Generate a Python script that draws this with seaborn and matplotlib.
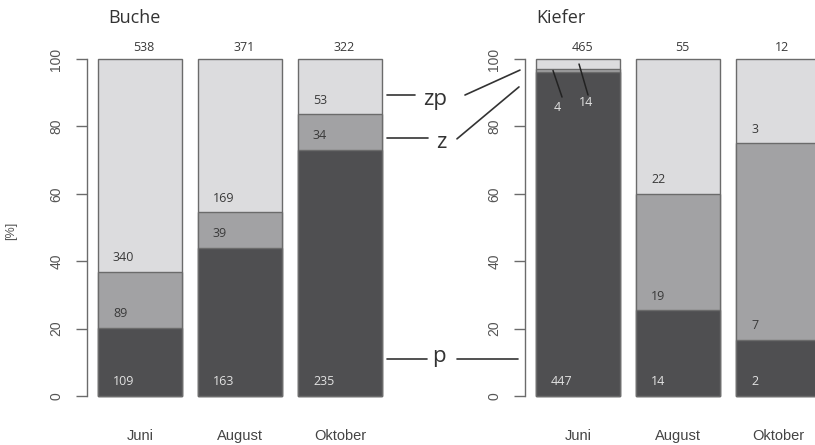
import matplotlib
matplotlib.use("Agg")
import matplotlib.pyplot as plt
import seaborn as sns
import pandas as pd

# ---------------- data ----------------
months = ["Juni", "August", "Oktober"]
panels = ["Buche", "Kiefer"]
buche_p = [109, 163, 235]
buche_z = [89, 39, 34]
buche_zp = [340, 169, 53]
kiefer_p = [447, 14, 2]
kiefer_z = [4, 19, 7]
kiefer_zp = [14, 22, 3]
yticks = [0, 20, 40, 60, 80, 100]

# ---------------- style ----------------
sns.set_theme(style="white")
plt.rcParams["font.family"] = ["Open Sans", "DejaVu Sans"]
AXFONT = ["Liberation Sans", "DejaVu Sans"]

C_DARK = "#4f4f51"
C_MID = "#a2a2a4"
C_LIGHT = "#dcdcde"
EDGE = "#6b6b6b"
TXT = "#3a3a3a"
TXT_LIGHT = "#e2e2e2"

rows = []
for panel, P, Z, ZP in [("Buche", buche_p, buche_z, buche_zp),
                        ("Kiefer", kiefer_p, kiefer_z, kiefer_zp)]:
    for m, a, b, c in zip(months, P, Z, ZP):
        n = a + b + c
        rows.append(dict(panel=panel, month=m, p=a, z=b, zp=c, n=n,
                         pct_p=100 * a / n, pct_pz=100 * (a + b) / n,
                         pct_all=100 * n / n))
df = pd.DataFrame(rows)

fig = plt.figure(figsize=(8.15, 4.45), dpi=100)
ax_pos = {"Buche": [0.1067, 0.0798, 0.3767, 0.818],
          "Kiefer": [0.6442, 0.0798, 0.3767, 0.818]}
title_x = {"Buche": -0.32, "Kiefer": -0.42}
BW = 0.84
axes = {}

for panel in panels:
    ax = fig.add_axes(ax_pos[panel])
    axes[panel] = ax
    d = df[df.panel == panel].reset_index(drop=True)
    for col, color in [("pct_all", C_LIGHT), ("pct_pz", C_MID), ("pct_p", C_DARK)]:
        sns.barplot(data=d, x="month", y=col, order=months, color=color,
                    width=BW, edgecolor=EDGE, linewidth=1.0, saturation=1,
                    errorbar=None, ax=ax)
    ax.set_xlim(-0.53, 2.54)
    ax.set_ylim(-4, 104)
    for s in ["top", "right", "bottom"]:
        ax.spines[s].set_visible(False)
    ax.spines["left"].set_bounds(0, 100)
    ax.spines["left"].set_color(EDGE)
    ax.spines["left"].set_linewidth(1.0)
    ax.set_yticks(yticks)
    ax.set_yticklabels([str(t) for t in yticks], rotation=90, va="center",
                       family=AXFONT)
    ax.set_xticks(range(len(months)))
    ax.set_xticklabels(months, family=AXFONT)
    ax.tick_params(axis="y", left=True, length=8, width=1, color=EDGE, pad=9,
                   labelsize=10, labelcolor="#555555", direction="out")
    ax.tick_params(axis="x", length=0, pad=14, labelsize=10.5, labelcolor="#444444")
    ax.set_xlabel("")
    ax.set_ylabel("")
    ax.text(title_x[panel], 110.7, panel, fontsize=13, color="#333333",
            ha="left", va="baseline", clip_on=False)

    for i, r in d.iterrows():
        left = i - BW / 2
        # total on top
        ax.text(i + 0.04, 103.3, str(r.n), ha="center", va="center",
                fontsize=9, color=TXT)
        segs = [(r.p, 0.0, TXT_LIGHT, "p"),
                (r.z, r.pct_p, TXT, "z"),
                (r.zp, r.pct_pz, TXT, "zp")]
        for val, bottom, tc, name in segs:
            if panel == "Kiefer" and i == 0 and name != "p":
                continue
            ax.text(left + 0.15, bottom + 4.2, str(val), ha="left", va="center",
                    fontsize=9, color=tc)

    if panel == "Kiefer":
        r = d.iloc[0]
        z_mid = (r.pct_p + r.pct_pz) / 2
        zp_mid = (r.pct_pz + 100) / 2
        ax.plot([-0.25, -0.16], [z_mid, 88.7], color="#222222", lw=1.1)
        ax.text(-0.21, 85.5, str(r.z), ha="center", va="center", fontsize=9,
                color=TXT_LIGHT)
        ax.plot([0.01, 0.10], [zp_mid, 89.3], color="#222222", lw=1.1)
        ax.text(0.08, 87.2, str(r.zp), ha="center", va="center", fontsize=9,
                color=TXT_LIGHT)

axb = axes["Buche"]
axb.set_ylabel("[%]", fontsize=9, color="#555555", family=AXFONT)
axb.yaxis.set_label_coords(-0.228, 0.49)

# legend-like annotations between the panels (Buche data coordinates)
LC = "#333333"
lw = 1.2
axb.plot([2.47, 2.75], [89.3, 89.3], color=LC, lw=lw, clip_on=False)
axb.plot([3.25, 3.80], [89.3, 96.7], color=LC, lw=lw, clip_on=False)
axb.text(2.95, 86.4, "zp", fontsize=16, color=LC, ha="center", va="baseline")
axb.plot([2.47, 2.88], [76.6, 76.6], color=LC, lw=lw, clip_on=False)
axb.plot([3.17, 3.79], [76.3, 91.7], color=LC, lw=lw, clip_on=False)
axb.text(3.01, 73.6, "z", fontsize=16, color=LC, ha="center", va="baseline")
axb.plot([2.47, 2.87], [11.0, 11.0], color=LC, lw=lw, clip_on=False)
axb.plot([3.17, 3.78], [11.0, 11.0], color=LC, lw=lw, clip_on=False)
axb.text(2.99, 10.1, "p", fontsize=16, color=LC, ha="center", va="baseline")

fig.savefig("out.png", dpi=100)
